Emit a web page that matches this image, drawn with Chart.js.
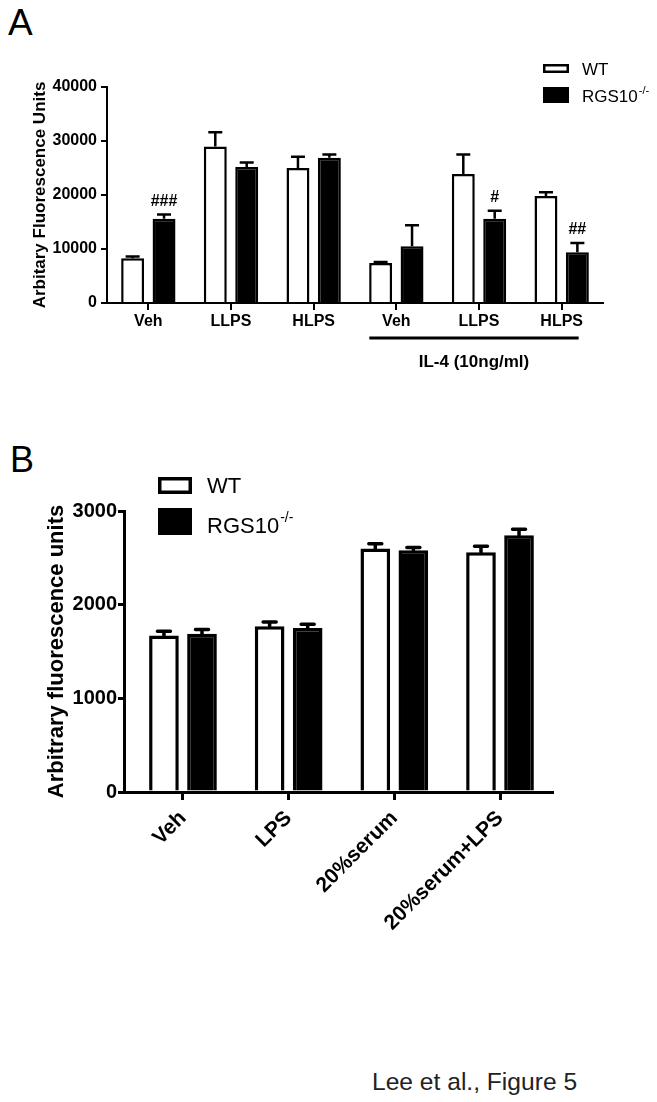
<!DOCTYPE html>
<html>
<head>
<meta charset="utf-8">
<script src="https://cdn.jsdelivr.net/npm/chart.js@4.4.0/dist/chart.umd.min.js"></script>
<style>
  body { margin: 0; background: #fff; width: 657px; height: 1102px; position: relative; overflow: hidden; font-family: "Liberation Sans", Arial, sans-serif; }
  .wrap { position: absolute; left: 0; width: 657px; }
  #wrapA { top: 0; height: 380px; }
  #wrapB { top: 440px; height: 520px; }
  .txt { position: absolute; color: #000; line-height: 1; white-space: nowrap; }
</style>
</head>
<body>
<div class="txt" style="left:8px;top:4px;font-size:37px;">A</div>
<div class="txt" style="left:10px;top:442px;font-size:36px;">B</div>
<div class="txt" style="left:372px;top:1070px;font-size:24.6px;color:#222;">Lee et al., Figure 5</div>
<div class="wrap" id="wrapA"><canvas id="chartA"></canvas></div>
<div class="wrap" id="wrapB"><canvas id="chartB"></canvas></div>
<script>
// panel A data
const categoriesA = ['Veh', 'LLPS', 'HLPS', 'Veh', 'LLPS', 'HLPS'];
const wtA = [8300, 29000, 25000, 7400, 23900, 19800];
const wtErrA = [300, 2600, 2100, 200, 3600, 700];
const koA = [15600, 25200, 26900, 10500, 15600, 9400];
const koErrA = [800, 800, 600, 3900, 1500, 1700];
const koMarksA = ['###', '', '', '', '#', '##'];
const yTicksA = [0, 10000, 20000, 30000, 40000];
const groupLabelA = 'IL-4 (10ng/ml)';

// panel B data
const categoriesB = ['Veh', 'LPS', '20%serum', '20%serum+LPS'];
const wtB = [1670, 1770, 2600, 2560];
const wtErrB = [45, 45, 50, 65];
const koB = [1690, 1750, 2580, 2740];
const koErrB = [45, 40, 30, 65];
const yTicksB = [0, 1000, 2000, 3000];

const seriesNames = ['WT', 'RGS10'];
const koSup = '-/-';

Chart.defaults.color = '#000';
Chart.defaults.font.family = '"Liberation Sans", Arial, sans-serif';
Chart.defaults.animation = false;

const valueOf = d => (typeof d === 'object' ? d.y : d);

// upward error bars + significance marks
const errorBars = {
  id: 'errorBars',
  afterDatasetsDraw(chart, args, o) {
    const ctx = chart.ctx, y = chart.scales.y;
    chart.data.datasets.forEach((ds, i) => {
      chart.getDatasetMeta(i).data.forEach((bar, j) => {
        const top = y.getPixelForValue(valueOf(ds.data[j]) + ds.errors[j]);
        ctx.save();
        ctx.strokeStyle = '#000';
        ctx.lineWidth = o.width;
        ctx.lineCap = o.lineCap || 'butt';
        ctx.beginPath();
        ctx.moveTo(bar.x, bar.y);
        ctx.lineTo(bar.x, top);
        ctx.moveTo(bar.x - o.cap / 2, top);
        ctx.lineTo(bar.x + o.cap / 2, top);
        ctx.stroke();
        if (ds.marks && ds.marks[j]) {
          ctx.fillStyle = '#000';
          ctx.font = o.markFont;
          ctx.textAlign = 'center';
          ctx.textBaseline = 'middle';
          ctx.fillText(ds.marks[j], bar.x, top - o.markGap);
        }
        ctx.restore();
      });
    });
  }
};

// legend with open / filled boxes
const boxLegend = {
  id: 'boxLegend',
  afterDraw(chart, args, o) {
    const ctx = chart.ctx;
    chart.data.datasets.forEach((ds, i) => {
      const r = o.rows[i];
      ctx.save();
      if (i === 0) {
        ctx.strokeStyle = '#000';
        ctx.lineWidth = o.lw;
        ctx.strokeRect(o.x + o.lw / 2, r.y + o.lw / 2, o.w - o.lw, r.h - o.lw);
      } else {
        ctx.fillStyle = '#000';
        ctx.fillRect(o.x, r.y, o.w, r.h);
      }
      ctx.fillStyle = '#000';
      ctx.font = o.font;
      ctx.textBaseline = 'alphabetic';
      ctx.textAlign = 'left';
      ctx.fillText(ds.label, o.textX, r.base);
      if (ds.sup) {
        const w = ctx.measureText(ds.label).width;
        ctx.font = o.supFont;
        ctx.fillText(ds.sup, o.textX + w + 1, r.base - o.supRise);
      }
      ctx.restore();
    });
  }
};

// bracket under the IL-4 groups
const groupLine = {
  id: 'groupLine',
  afterDraw(chart, args, o) {
    if (!o.text) return;
    const ctx = chart.ctx, x = chart.scales.x, bottom = chart.chartArea.bottom;
    const x1 = x.getPixelForValue(o.from) - o.padL;
    const x2 = x.getPixelForValue(o.to) + o.padR;
    ctx.save();
    ctx.strokeStyle = '#000';
    ctx.lineWidth = 3;
    ctx.beginPath();
    ctx.moveTo(x1, bottom + o.lineGap);
    ctx.lineTo(x2, bottom + o.lineGap);
    ctx.stroke();
    ctx.fillStyle = '#000';
    ctx.font = 'bold 17px "Liberation Sans", Arial, sans-serif';
    ctx.textAlign = 'center';
    ctx.textBaseline = 'middle';
    ctx.fillText(o.text, (x1 + x2) / 2, bottom + o.textGap);
    ctx.restore();
  }
};

function fixedTicks(values) {
  return function (scale) { scale.ticks = values.map(v => ({ value: v })); };
}

new Chart(document.getElementById('chartA'), {
  type: 'bar',
  data: {
    labels: categoriesA,
    datasets: [
      { label: seriesNames[0], data: wtA, errors: wtErrA, backgroundColor: '#fff', borderColor: '#000', borderWidth: 2.5 },
      { label: seriesNames[1], sup: koSup, data: koA, errors: koErrA, marks: koMarksA, backgroundColor: '#000', borderColor: '#000', borderWidth: 2.5 }
    ]
  },
  options: {
    responsive: true,
    maintainAspectRatio: false,
    layout: { padding: { left: 0, right: 54, top: 87, bottom: 0 } },
    datasets: { bar: { categoryPercentage: 0.76, barPercentage: 0.73 } },
    plugins: {
      legend: { display: false },
      tooltip: { enabled: false },
      errorBars: { width: 2.5, cap: 14, markFont: 'bold 16px "Liberation Sans", Arial, sans-serif', markGap: 13 },
      boxLegend: { x: 543, w: 26, lw: 2.5, textX: 582, font: '17px "Liberation Sans", Arial, sans-serif', supFont: '11px "Liberation Sans", Arial, sans-serif', supRise: 8,
        rows: [{ y: 64, h: 9, base: 75 }, { y: 87, h: 16, base: 102 }] },
      groupLine: { text: groupLabelA, from: 3, to: 5, padL: 27, padR: 17, lineGap: 35, textGap: 59 }
    },
    scales: {
      x: {
        afterFit(s) { s.height = 77; },
        grid: { display: true, offset: false, drawOnChartArea: false, color: '#000', lineWidth: 2, tickLength: 7 },
        border: { display: true, color: '#000', width: 2 },
        ticks: { font: { size: 16, weight: 'bold' }, padding: 2, maxRotation: 0, autoSkip: false }
      },
      y: {
        min: 0, max: 40000,
        afterFit(s) { s.width = 107; },
        afterBuildTicks: fixedTicks(yTicksA),
        grid: { display: true, drawOnChartArea: false, color: '#000', lineWidth: 2, tickLength: 6 },
        border: { display: true, color: '#000', width: 2 },
        ticks: { font: { size: 16, weight: 'bold' }, padding: 4, callback: v => String(v) },
        title: { display: true, text: 'Arbitary Fluorescence Units', font: { size: 17, weight: 'bold' }, padding: { top: 30, bottom: 0 } }
      }
    }
  },
  plugins: [errorBars, boxLegend, groupLine]
});

// panel B uses a linear index axis so the first group can sit further from the y axis than the last
const toPoints = arr => arr.map((v, i) => ({ x: i, y: v }));

new Chart(document.getElementById('chartB'), {
  type: 'bar',
  data: {
    datasets: [
      { label: seriesNames[0], data: toPoints(wtB), errors: wtErrB, backgroundColor: '#fff', borderColor: '#000', borderWidth: 3.5 },
      { label: seriesNames[1], sup: koSup, data: toPoints(koB), errors: koErrB, backgroundColor: '#000', borderColor: '#000', borderWidth: 3.5 }
    ]
  },
  options: {
    responsive: true,
    maintainAspectRatio: false,
    layout: { padding: { left: 0, right: 105, top: 71, bottom: 0 } },
    datasets: { bar: { categoryPercentage: 0.72, barPercentage: 0.78 } },
    plugins: {
      legend: { display: false },
      tooltip: { enabled: false },
      errorBars: { width: 3.5, cap: 13, lineCap: 'round' },
      boxLegend: { x: 158, w: 34, lw: 3.5, textX: 207, font: '22px "Liberation Sans", Arial, sans-serif', supFont: '14px "Liberation Sans", Arial, sans-serif', supRise: 11,
        rows: [{ y: 37, h: 17, base: 53 }, { y: 68, h: 27, base: 93 }] },
      groupLine: {}
    },
    scales: {
      x: {
        type: 'linear',
        offset: false,
        min: -0.558, max: 3.492,
        afterFit(s) { s.height = 168; },
        afterBuildTicks: fixedTicks(categoriesB.map((c, i) => i)),
        grid: { display: true, offset: false, drawOnChartArea: false, color: '#000', lineWidth: 3, tickLength: 8 },
        border: { display: true, color: '#000', width: 3 },
        ticks: { font: { size: 21, weight: 'bold' }, padding: 6, minRotation: 45, maxRotation: 45, autoSkip: false,
          callback: v => categoriesB[Math.round(v)] }
      },
      y: {
        min: 0, max: 3000,
        afterFit(s) { s.width = 124; },
        afterBuildTicks: fixedTicks(yTicksB),
        grid: { display: true, drawOnChartArea: false, color: '#000', lineWidth: 3, tickLength: 6 },
        border: { display: true, color: '#000', width: 3 },
        ticks: { font: { size: 20, weight: 'bold' }, padding: 1, callback: v => String(v) },
        title: { display: true, text: 'Arbitrary fluorescence units', font: { size: 22, weight: 'bold' }, padding: { top: 44, bottom: 0 } }
      }
    }
  },
  plugins: [errorBars, boxLegend, groupLine]
});
</script>
</body>
</html>
